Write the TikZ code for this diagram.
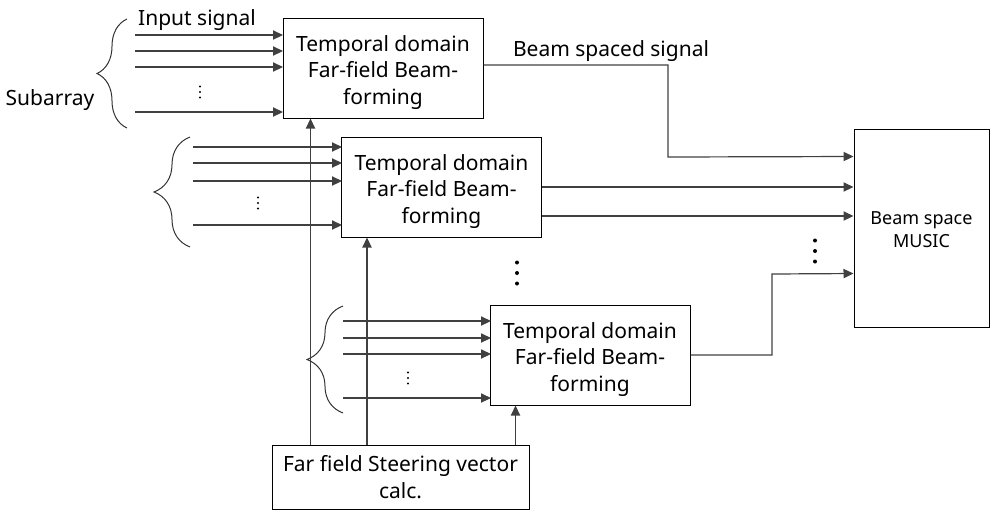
\documentclass[tikz,border=0pt]{standalone}
\usepackage{fontspec}
\setmainfont{Noto Sans}
\usetikzlibrary{positioning, arrows.meta, calc, decorations.pathreplacing}

\begin{document}
\begin{tikzpicture}[
    x=0.5pt, y=-0.5pt,
    >={Triangle[length=5pt, width=4.6pt]},
    every node/.style={font=\fontsize{10.5}{13.25}\selectfont},
    bfbox/.style={draw, line width=0.5pt, minimum width=100pt, minimum height=50pt, align=center, inner sep=0pt,
        text height=38.6pt},
    musicbox/.style={draw, line width=0.5pt, minimum width=67.5pt, minimum height=99pt, align=center, inner sep=0pt,
        font=\fontsize{9}{11.5}\selectfont, text height=19.8pt},
    steerbox/.style={draw, line width=0.5pt, minimum width=128.5pt, minimum height=32pt, align=center, inner sep=0pt},
    lbl/.style={inner sep=0pt},
    arr/.style={->, line width=0.6pt, black!75},
    brc/.style={decorate, decoration={brace, amplitude=15pt}, line width=0.5pt, black!80},
]
\useasboundingbox (0,0) rectangle (990,511);

% ---- Beamforming blocks ----
\node[bfbox] (bf1) at (383,68) {Temporal domain\\Far-field Beam-\\forming};
\node[bfbox] (bf2) at (441.5,187) {Temporal domain\\Far-field Beam-\\forming};
\node[bfbox] (bf3) at (590,355) {Temporal domain\\Far-field Beam-\\forming};

% ---- MUSIC and steering vector ----
\node[musicbox] (music) at (921.5,228) {Beam space\\MUSIC};
\node[steerbox] (steer) at (400.5,477) {Far field Steering vector\\calc.};

% ---- Labels ----
\node[lbl] (insig) at (197,20) {Input signal};
\node[lbl] (sub) at (50,100) {Subarray};
\node[lbl] (bsig) at (611,51) {Beam spaced signal};

% ---- Subarray inputs ----
\foreach \y in {35,51,67,112} \draw[arr] (135,\y) -- (283,\y);
\foreach \y in {147,163,181,225} \draw[arr] (193,\y) -- (342,\y);
\foreach \y in {321,338,354,398} \draw[arr] (343,\y) -- (491,\y);

\draw[brc] (127,128) -- (127,19);
\draw[brc, decoration={amplitude=18pt}] (190,247) -- (190,137);
\draw[brc, decoration={amplitude=18pt}] (343,413) -- (343,306);

% ---- Small dots in input stacks ----
\coordinate (sd1) at (200,92);
\coordinate (sd2) at (258,203);
\coordinate (sd3) at (408,378);
\foreach \c in {sd1,sd2,sd3}
  \foreach \k in {-1,0,1} \fill ($(\c)+(0,5.5*\k)$) circle (0.6pt);

% ---- Steering vector feeds ----
\coordinate (v1) at ([xshift=14pt]bf1.south west);
\coordinate (v2) at ([xshift=13pt]bf2.south west);
\coordinate (v3) at ([xshift=13pt]bf3.south west);
\draw[arr] (v1 |- steer.north) -- (v1);
\draw[arr] (v2 |- steer.north) -- (v2);
\draw[arr] (v3 |- steer.north) -- (v3);

% ---- Beam spaced outputs ----
\coordinate (m1) at ([yshift=-14pt]music.north west);
\coordinate (m4) at ([yshift=-72.5pt]music.north west);
\coordinate (o2) at ([yshift=-14.5pt]bf2.east);
\draw[arr] ([yshift=1.5pt]bf1.east) -| (668,157) -- (m1);
\draw[arr] (bf2.east) -- (bf2.east -| music.west);
\draw[arr] (o2) -- (o2 -| music.west);
\draw[arr] (bf3.east) -| (772,274) -- (m4);

% ---- Large dots ----
\coordinate (gd1) at (517,273);
\coordinate (gd2) at (815,251);
\foreach \c in {gd1,gd2}
  \foreach \k in {-1,0,1} \fill ($(\c)+(0,10.5*\k)$) circle (1pt);

\end{tikzpicture}
\end{document}
